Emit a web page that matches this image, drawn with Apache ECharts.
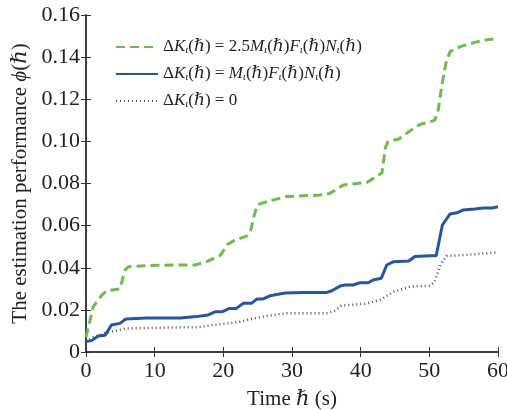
<!DOCTYPE html>
<html><head><meta charset="utf-8">
<script src="https://cdn.jsdelivr.net/npm/echarts@6/dist/echarts.min.js"></script>
<style>html,body{margin:0;padding:0;background:#fff}#c{width:507px;height:410px}</style>
</head><body><div id="c"></div>
<script>
// ---- data ----
const xTicks = [0, 10, 20, 30, 40, 50, 60];
const yTicks = [0, 0.02, 0.04, 0.06, 0.08, 0.10, 0.12, 0.14, 0.16];

const greenX = [0, 1.06, 2.3, 3.0, 4.95, 5.7, 6.2, 8.8, 13.2, 15.9, 17.6, 19.6, 20.6, 21.6, 23.4, 24.0, 24.5, 25.0, 26.8, 29.2, 34.1, 35.5, 37.5, 40.9, 42.6, 43.1, 43.6, 44.0, 45.5, 47.2, 48.6, 50.8, 51.3, 51.8, 52.4, 53.0, 54.5, 56.6, 58.8, 60];
const greenY = [0.007, 0.0215, 0.027, 0.029, 0.030, 0.039, 0.0405, 0.041, 0.0413, 0.0413, 0.0429, 0.046, 0.051, 0.053, 0.055, 0.058, 0.065, 0.070, 0.0718, 0.0738, 0.0745, 0.0753, 0.0793, 0.0805, 0.084, 0.085, 0.097, 0.100, 0.101, 0.105, 0.108, 0.110, 0.115, 0.126, 0.137, 0.1426, 0.145, 0.147, 0.1485, 0.1485];

const blueX = [0, 0.8, 1.8, 2.8, 3.7, 4.95, 5.8, 8.8, 13.7, 16.1, 17.8, 18.8, 19.8, 20.9, 21.9, 22.9, 24.1, 24.9, 25.8, 26.8, 28.0, 29.0, 31.6, 35.0, 35.8, 37.0, 37.7, 38.9, 39.9, 41.1, 41.8, 43.0, 43.8, 44.8, 47.0, 47.9, 50.1, 51.0, 51.9, 53.0, 54.0, 54.9, 56.6, 57.9, 59.1, 60];
const blueY = [0.005, 0.0054, 0.0076, 0.008, 0.0128, 0.0136, 0.0157, 0.0161, 0.0161, 0.0168, 0.0176, 0.0191, 0.0191, 0.0207, 0.0207, 0.0231, 0.0231, 0.0252, 0.0252, 0.0267, 0.0274, 0.028, 0.0282, 0.0282, 0.0291, 0.0313, 0.0318, 0.0318, 0.0329, 0.0329, 0.0342, 0.035, 0.0413, 0.0429, 0.0432, 0.0453, 0.0457, 0.0457, 0.0603, 0.0655, 0.0661, 0.0674, 0.0679, 0.0684, 0.0684, 0.069];

const grayX = [0, 1.06, 2.8, 4.2, 5.9, 8.8, 13.7, 16.1, 18.5, 20.7, 22.4, 25.3, 27.3, 29.2, 35.0, 36.3, 37.2, 40.9, 42.8, 44.8, 47.2, 50.1, 50.8, 51.6, 52.5, 54.5, 56.9, 60];
const grayY = [0.005, 0.007, 0.0089, 0.010, 0.0112, 0.0114, 0.0117, 0.0117, 0.0128, 0.0136, 0.0144, 0.0165, 0.0176, 0.0184, 0.0184, 0.0196, 0.022, 0.023, 0.0247, 0.0286, 0.031, 0.0315, 0.0334, 0.0413, 0.0456, 0.046, 0.0465, 0.0473];

const seriesNames = ['green', 'blue', 'gray'];
const legendRich = {
  green: '{u|Δ}{i|K}{s|ι}{u|(}{i|ℏ}{u|) = 2.5}{i|M}{s|ι}{u|(}{i|ℏ}{u|)}{i|F}{s|ι}{u|(}{i|ℏ}{u|)}{i|N}{s|ι}{u|(}{i|ℏ}{u|)}',
  blue: '{u|Δ}{i|K}{s|ι}{u|(}{i|ℏ}{u|) = }{i|M}{s|ι}{u|(}{i|ℏ}{u|)}{i|F}{s|ι}{u|(}{i|ℏ}{u|)}{i|N}{s|ι}{u|(}{i|ℏ}{u|)}',
  gray: '{u|Δ}{i|K}{s|ι}{u|(}{i|ℏ}{u|) = 0}'
};
const xTitle = '{u|Time }{i|ℏ}{u| (s)}';
const yTitle = '{u|The estimation performance }{i|ϕ}{u|(}{i|ℏ}{u|)}';

// ---- chart ----
const SERIF = '"Liberation Serif", "DejaVu Serif", serif';
const pairs = (xs, ys) => xs.map((x, i) => [x, ys[i]]);
const chart = echarts.init(document.getElementById('c'), null, {renderer: 'canvas'});
const axisLine = {show: true, lineStyle: {color: '#333', width: 1.5}};
const axisTick = {show: true, inside: true, length: 5, lineStyle: {color: '#333', width: 1}};
const labelStyle = {color: '#222', fontFamily: SERIF, fontSize: 22};
const titleRich = {
  u: {fontFamily: SERIF, fontSize: 21, color: '#222'},
  i: {fontFamily: SERIF, fontSize: 21, fontStyle: 'italic', color: '#222'}
};

chart.setOption({
  animation: false,
  grid: {left: 86, right: 9, top: 15, bottom: 58, containLabel: false, outerBoundsMode: 'none'},
  xAxis: [{
    type: 'value', min: xTicks[0], max: xTicks[xTicks.length - 1], interval: 10,
    axisLine, axisTick, splitLine: {show: false},
    axisLabel: Object.assign({margin: 8}, labelStyle),
    name: xTitle, nameLocation: 'middle', nameGap: 37,
    nameTextStyle: {color: '#222', fontFamily: SERIF, fontSize: 21, rich: titleRich}
  }, {
    type: 'value', position: 'top', min: 0, max: 60, interval: 10,
    axisLine, axisTick, splitLine: {show: false}, axisLabel: {show: false}
  }],
  yAxis: [{
    type: 'value', min: yTicks[0], max: yTicks[yTicks.length - 1], interval: 0.02,
    axisLine, axisTick, splitLine: {show: false},
    axisLabel: Object.assign({margin: 6, formatter: v => v === 0 ? '0' : v.toFixed(2)}, labelStyle),
    name: yTitle, nameLocation: 'middle', nameGap: 53, nameRotate: 90,
    nameTextStyle: {color: '#222', fontFamily: SERIF, fontSize: 21, rich: titleRich}
  }, {
    type: 'value', position: 'right', min: 0, max: 0.16, interval: 0.02,
    axisLine, axisTick, splitLine: {show: false}, axisLabel: {show: false}
  }],
  legend: {
    orient: 'vertical', left: 110, top: 33, itemWidth: 42, itemHeight: 14, itemGap: 9,
    data: seriesNames,
    itemStyle: {opacity: 0},
    formatter: n => legendRich[n],
    textStyle: {
      color: '#222', fontFamily: SERIF, fontSize: 17, lineHeight: 18,
      rich: {
        u: {fontFamily: SERIF, fontSize: 17, color: '#222'},
        i: {fontFamily: SERIF, fontSize: 17, fontStyle: 'italic', color: '#222'},
        s: {fontFamily: SERIF, fontSize: 11, fontStyle: 'italic', color: '#222', verticalAlign: 'bottom', padding: [6, 0, 0, 0]}
      }
    }
  },
  series: [{
    name: seriesNames[0], type: 'line', data: pairs(greenX, greenY), symbol: 'none',
    lineStyle: {color: '#6cbf45', width: 3, type: [9, 5]}, itemStyle: {color: '#6cbf45'}, z: 3
  }, {
    name: seriesNames[1], type: 'line', data: pairs(blueX, blueY), symbol: 'none',
    lineStyle: {color: '#2456a8', width: 3}, itemStyle: {color: '#2456a8'}, z: 4
  }, {
    name: seriesNames[2], type: 'line', data: pairs(grayX, grayY), symbol: 'none',
    lineStyle: {color: '#555', width: 2.5, type: [1, 3]}, itemStyle: {color: '#555'}, z: 2
  }]
});
</script></body></html>
